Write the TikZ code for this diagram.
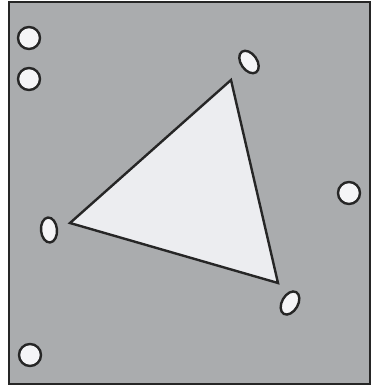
\documentclass[tikz,border=0pt]{standalone}
\usetikzlibrary{shapes.geometric}

\definecolor{boardgray}{RGB}{170,172,174}
\definecolor{paleface}{RGB}{236,237,240}
\definecolor{holefill}{RGB}{245,245,247}

\begin{document}
\begin{tikzpicture}[x=1pt, y=-1pt,
    board/.style={draw=black!85, line width=2pt, fill=boardgray},
    hole/.style={circle, draw=black!85, line width=2.4pt, fill=holefill,
                 minimum size=22pt, inner sep=0pt},
    oval/.style={ellipse, draw=black!85, line width=2.4pt, fill=holefill,
                 minimum width=16pt, minimum height=25pt, inner sep=0pt},
    face/.style={draw=black!85, line width=2.4pt, fill=paleface, line join=miter}
]
    \useasboundingbox (0,0) rectangle (371,392);

    % gray plate
    \path[board] (9,2) rectangle (369.5,384);

    % round holes
    \node[hole] (h1) at (29,38)  {};
    \node[hole] (h2) at (29,79)  {};
    \node[hole] (h3) at (349,193) {};
    \node[hole] (h4) at (30,355) {};

    % triangle
    \coordinate (top)   at (231,80);
    \coordinate (left)  at (70,223);
    \coordinate (right) at (278,283);
    \path[face] (top) -- (left) -- (right) -- cycle;

    % oval holes near the corners
    \node[oval, rotate=35]  (o1) at (249,62)  {};
    \node[oval, rotate=5]   (o2) at (49,230)  {};
    \node[oval, rotate=-30] (o3) at (290,303) {};
\end{tikzpicture}
\end{document}
